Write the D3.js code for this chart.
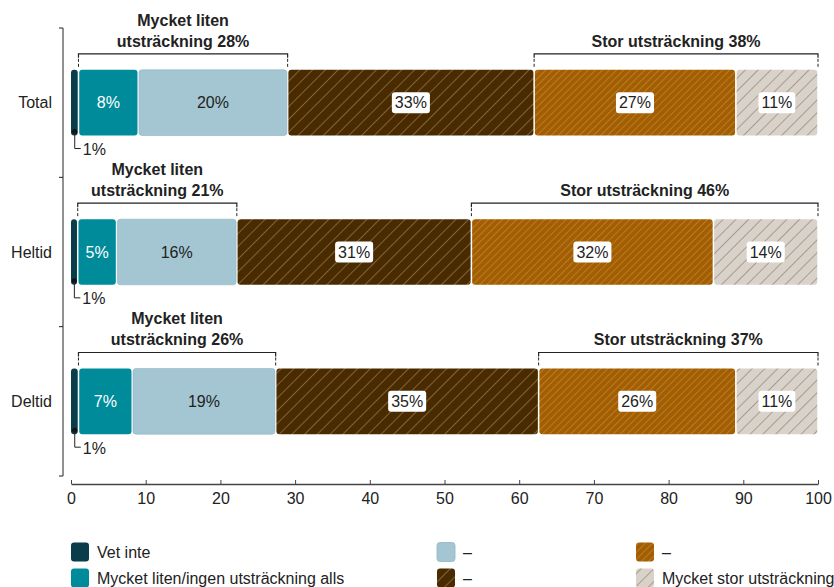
<!DOCTYPE html>
<html>
<head>
<meta charset="utf-8">
<script src="https://cdn.jsdelivr.net/npm/d3@7"></script>
<style>
html,body{margin:0;padding:0;background:#fff;}
svg{display:block;font-family:"Liberation Sans",Arial,sans-serif;}
</style>
</head>
<body>
<svg id="chart" width="834" height="587"></svg>
<script>
// ---- data ----
const categories = ["Total", "Heltid", "Deltid"];
const seriesNames = ["Vet inte", "Mycket liten/ingen utsträckning alls", "–", "–", "–", "Mycket stor utsträckning"];
const totalValues  = [1, 8, 20, 33, 27, 11];
const heltidValues = [0.9, 5.2, 16.1, 31.4, 32.4, 14.0];
const deltidValues = [1.0, 7.2, 19.2, 35.2, 26.4, 11.0];
const lowGroupLabels  = ["Mycket liten", "utsträckning"];
const highGroupLabel = "Stor utsträckning";
const xTicks = [0, 10, 20, 30, 40, 50, 60, 70, 80, 90, 100];

const values = [totalValues, heltidValues, deltidValues];
const colors = ["#0a3d4a", "#008b9b", "#a3c6d2", "#4a2b00", "#a25e00", "#d8d2cb"];
const hatch  = [null, null, null, {c:"#b09a7c", s:9, w:1}, {c:"#cf9a55", s:5, w:1}, {c:"#7d6445", s:9, w:1}];
const FS = 16;

const svg = d3.select("#chart");
const defs = svg.append("defs");
hatch.forEach((h, i) => {
  if (!h) return;
  const p = defs.append("pattern").attr("id", "hatch" + i)
    .attr("patternUnits", "userSpaceOnUse").attr("width", h.s).attr("height", h.s)
    .attr("patternTransform", "rotate(45)");
  p.append("rect").attr("width", h.s).attr("height", h.s).attr("fill", colors[i]);
  p.append("line").attr("x1", 0).attr("y1", 0).attr("x2", 0).attr("y2", h.s)
    .attr("stroke", h.c).attr("stroke-width", h.w);
});
const fillOf = i => hatch[i] ? `url(#hatch${i})` : colors[i];

const x = d3.scaleLinear().domain([0, 100]).range([71, 818]);
const y = d3.scaleBand().domain(categories).range([28, 476]).paddingInner(0.56).paddingOuter(0.28);

// y axis line with boundary ticks
const yAxisG = svg.append("g");
yAxisG.append("line").attr("x1", 63).attr("x2", 63).attr("y1", 28).attr("y2", 476)
  .attr("stroke", "#222").attr("stroke-width", 1);
const bounds = [28].concat(categories.map(c => y(c) + y.bandwidth() + y.step()*y.paddingInner()/2).slice(0, 2)).concat([476]);
bounds.forEach(b => yAxisG.append("line").attr("x1", 59).attr("x2", 63).attr("y1", b).attr("y2", b).attr("stroke", "#222"));
categories.forEach(c => {
  svg.append("text").attr("x", 52).attr("y", y(c) + y.bandwidth()/2).attr("dy", "0.35em")
    .attr("text-anchor", "end").attr("font-size", FS).attr("fill", "#222").text(c);
});

// x axis
const xAxis = d3.axisBottom(x).tickValues(xTicks).tickSizeInner(-4).tickSizeOuter(0).tickPadding(9);
const xg = svg.append("g").attr("transform", "translate(0,484)").call(xAxis);
xg.select(".domain").attr("stroke", "#444").attr("stroke-width", 1.5);
xg.selectAll(".tick line").attr("stroke", "#444");
xg.selectAll("text").attr("font-size", FS).attr("fill", "#222").attr("font-family", "Liberation Sans, Arial, sans-serif");

const fmt = v => Math.round(v) + "%";

categories.forEach((cat, ci) => {
  const vals = values[ci];
  const y0 = y(cat), bh = y.bandwidth(), cy = y0 + bh/2;
  let cum = 0;
  const segs = vals.map((v, i) => { const s = {i, v, a: cum, b: cum + v}; cum += v; return s; });
  const g = svg.append("g");
  segs.forEach(s => {
    const xa = x(s.a) + (s.i === 0 ? 0 : 0.75), xb = x(s.b) - 0.75;
    g.append("rect").attr("x", xa).attr("y", y0).attr("width", Math.max(0, xb - xa)).attr("height", bh)
      .attr("rx", 3).attr("fill", fillOf(s.i))
      .attr("stroke", s.i === 2 ? "#8fb4c1" : "none").attr("stroke-width", 0.6);
  });
  // labels
  segs.forEach(s => {
    const cx = (x(s.a) + x(s.b)) / 2;
    const t = fmt(s.v);
    if (s.i === 0) {
      const dx = cx;
      g.append("circle").attr("cx", dx).attr("cy", y0 + bh - 4).attr("r", 2.5).attr("fill", "#111");
      g.append("path").attr("d", `M${dx},${y0 + bh - 4}V${y0 + bh + 13}H${dx + 6}`)
        .attr("fill", "none").attr("stroke", "#222").attr("stroke-width", 1);
      g.append("text").attr("x", dx + 8).attr("y", y0 + bh + 14).attr("dy", "0.35em")
        .attr("font-size", FS).attr("fill", "#222").text(t);
    } else if (s.i === 1 || s.i === 2) {
      g.append("text").attr("x", cx).attr("y", cy).attr("dy", "0.35em").attr("text-anchor", "middle")
        .attr("font-size", FS).attr("fill", s.i === 1 ? "#fff" : "#222").text(t);
    } else {
      const box = g.append("rect").attr("rx", 3).attr("fill", "#fff");
      const txt = g.append("text").attr("x", cx).attr("y", cy).attr("dy", "0.35em").attr("text-anchor", "middle")
        .attr("font-size", FS).attr("fill", "#222").text(t);
      const tw = txt.node().getComputedTextLength();
      box.attr("x", cx - tw/2 - 3).attr("y", cy - 10.5).attr("width", tw + 6).attr("height", 21);
    }
  });
  // brackets
  const lowSum = Math.round(vals[1] + vals[2]);
  const highSum = Math.round(vals[4] + vals[5]);
  const by = y0 - 16;
  function bracket(a, b) {
    const xa = x(a), xb = x(b);
    g.append("path").attr("d", `M${xa},${by + 4}V${by}H${xb}V${by + 4}`)
      .attr("fill", "none").attr("stroke", "#222").attr("stroke-width", 1.2);
    [xa, xb].forEach(xx => g.append("line").attr("x1", xx).attr("x2", xx).attr("y1", by + 5).attr("y2", y0 - 1)
      .attr("stroke", "#222").attr("stroke-width", 1).attr("stroke-dasharray", "3,2"));
  }
  const la = segs[1].a, lb = segs[2].b, ha = segs[4].a, hb = segs[5].b;
  bracket(la, lb);
  bracket(ha, hb);
  const lx = (x(la) + x(lb)) / 2;
  g.append("text").attr("x", lx).attr("y", by - 28).attr("text-anchor", "middle").attr("font-size", FS)
    .attr("font-weight", "bold").attr("fill", "#222").text(lowGroupLabels[0]);
  g.append("text").attr("x", lx).attr("y", by - 7).attr("text-anchor", "middle").attr("font-size", FS)
    .attr("font-weight", "bold").attr("fill", "#222").text(lowGroupLabels[1] + " " + lowSum + "%");
  g.append("text").attr("x", (x(ha) + x(hb)) / 2).attr("y", by - 7).attr("text-anchor", "middle").attr("font-size", FS)
    .attr("font-weight", "bold").attr("fill", "#222").text(highGroupLabel + " " + highSum + "%");
});

// legend
const legendCols = [71, 437, 636];
const legendRows = [552, 578];
seriesNames.forEach((name, i) => {
  const col = Math.floor(i / 2), row = i % 2;
  const lx = legendCols[col], ly = legendRows[row];
  const lg = svg.append("g");
  lg.append("rect").attr("x", lx).attr("y", ly - 9.5).attr("width", 18).attr("height", 19).attr("rx", 3)
    .attr("fill", fillOf(i)).attr("stroke", i === 2 ? "#8fb4c1" : "none").attr("stroke-width", 0.8);
  lg.append("text").attr("x", lx + 26).attr("y", ly).attr("dy", "0.35em").attr("font-size", FS)
    .attr("fill", "#222").text(name);
});
</script>
</body>
</html>
